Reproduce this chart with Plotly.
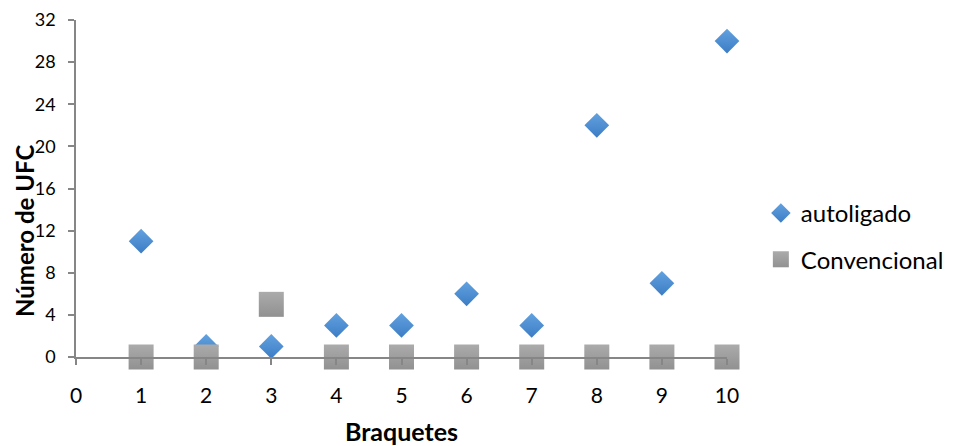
import plotly.graph_objects as go

braquetes = [1, 2, 3, 4, 5, 6, 7, 8, 9, 10]
autoligado = [11, 1, 1, 3, 3, 6, 3, 22, 7, 30]
convencional = [0, 0, 5, 0, 0, 0, 0, 0, 0, 0]
y_ticks = [0, 4, 8, 12, 16, 20, 24, 28, 32]
x_ticks = [0, 1, 2, 3, 4, 5, 6, 7, 8, 9, 10]

BLUE_TOP, BLUE_BOT = "#62A2E0", "#3C7CC4"
GRAY_TOP, GRAY_BOT = "#ABABAB", "#919191"

fig = go.Figure()
fig.add_trace(go.Scatter(
    x=braquetes, y=autoligado, mode="markers", name="autoligado",
    showlegend=False, cliponaxis=False,
    marker=dict(symbol="diamond", size=19, color=BLUE_TOP,
                gradient=dict(type="vertical", color=BLUE_BOT),
                line=dict(width=0)),
))
fig.add_trace(go.Scatter(
    x=braquetes, y=convencional, mode="markers", name="Convencional",
    showlegend=False, cliponaxis=False,
    marker=dict(symbol="square", size=25, color=GRAY_TOP,
                gradient=dict(type="vertical", color=GRAY_BOT),
                line=dict(width=0)),
))
# legend entries (smaller symbols, like the reference legend)
fig.add_trace(go.Scatter(
    x=[None], y=[None], mode="markers", name="autoligado", legendgroup="a",
    marker=dict(symbol="diamond", size=15, color=BLUE_TOP,
                gradient=dict(type="vertical", color=BLUE_BOT), line=dict(width=0)),
))
fig.add_trace(go.Scatter(
    x=[None], y=[None], mode="markers", name="Convencional", legendgroup="b",
    marker=dict(symbol="square", size=16, color=GRAY_TOP,
                gradient=dict(type="vertical", color=GRAY_BOT), line=dict(width=0)),
))

axis_col = "#868686"
fig.update_layout(
    width=945, height=438,
    margin=dict(l=68, r=226, t=12, b=89, autoexpand=False),
    paper_bgcolor="white", plot_bgcolor="white",
    font=dict(family="Lato, Open Sans, sans-serif", color="#000000"),
    showlegend=True,
    legend=dict(x=1.052, y=0.3576, xanchor="left", yanchor="middle",
                font=dict(size=24), traceorder="grouped", tracegroupgap=12,
                bgcolor="rgba(0,0,0,0)", borderwidth=0),
    xaxis=dict(range=[0, 10], tickvals=x_ticks, ticktext=[str(v) for v in x_ticks],
               showgrid=False, zeroline=False, automargin=False,
               showline=True, linecolor=axis_col, linewidth=1.5,
               ticks="outside", ticklen=6, tickwidth=1.5, tickcolor=axis_col,
               tickfont=dict(size=21), ticklabelstandoff=13,
               title=dict(text="<b>Braquetes</b>", font=dict(size=25), standoff=22)),
    yaxis=dict(range=[0, 32], tickvals=y_ticks, showgrid=False,
               zeroline=False, automargin=False,
               showline=True, linecolor=axis_col, linewidth=1.5,
               ticks="outside", ticklen=6, tickwidth=1.5, tickcolor=axis_col,
               tickfont=dict(size=18), ticklabelstandoff=9),
    annotations=[dict(text="<b>Número de UFC</b>", textangle=-90,
                      xref="paper", yref="paper", x=-0.0783, y=0.374,
                      xanchor="center", yanchor="middle", showarrow=False,
                      font=dict(size=24))],
)

fig.write_html("out.html")
